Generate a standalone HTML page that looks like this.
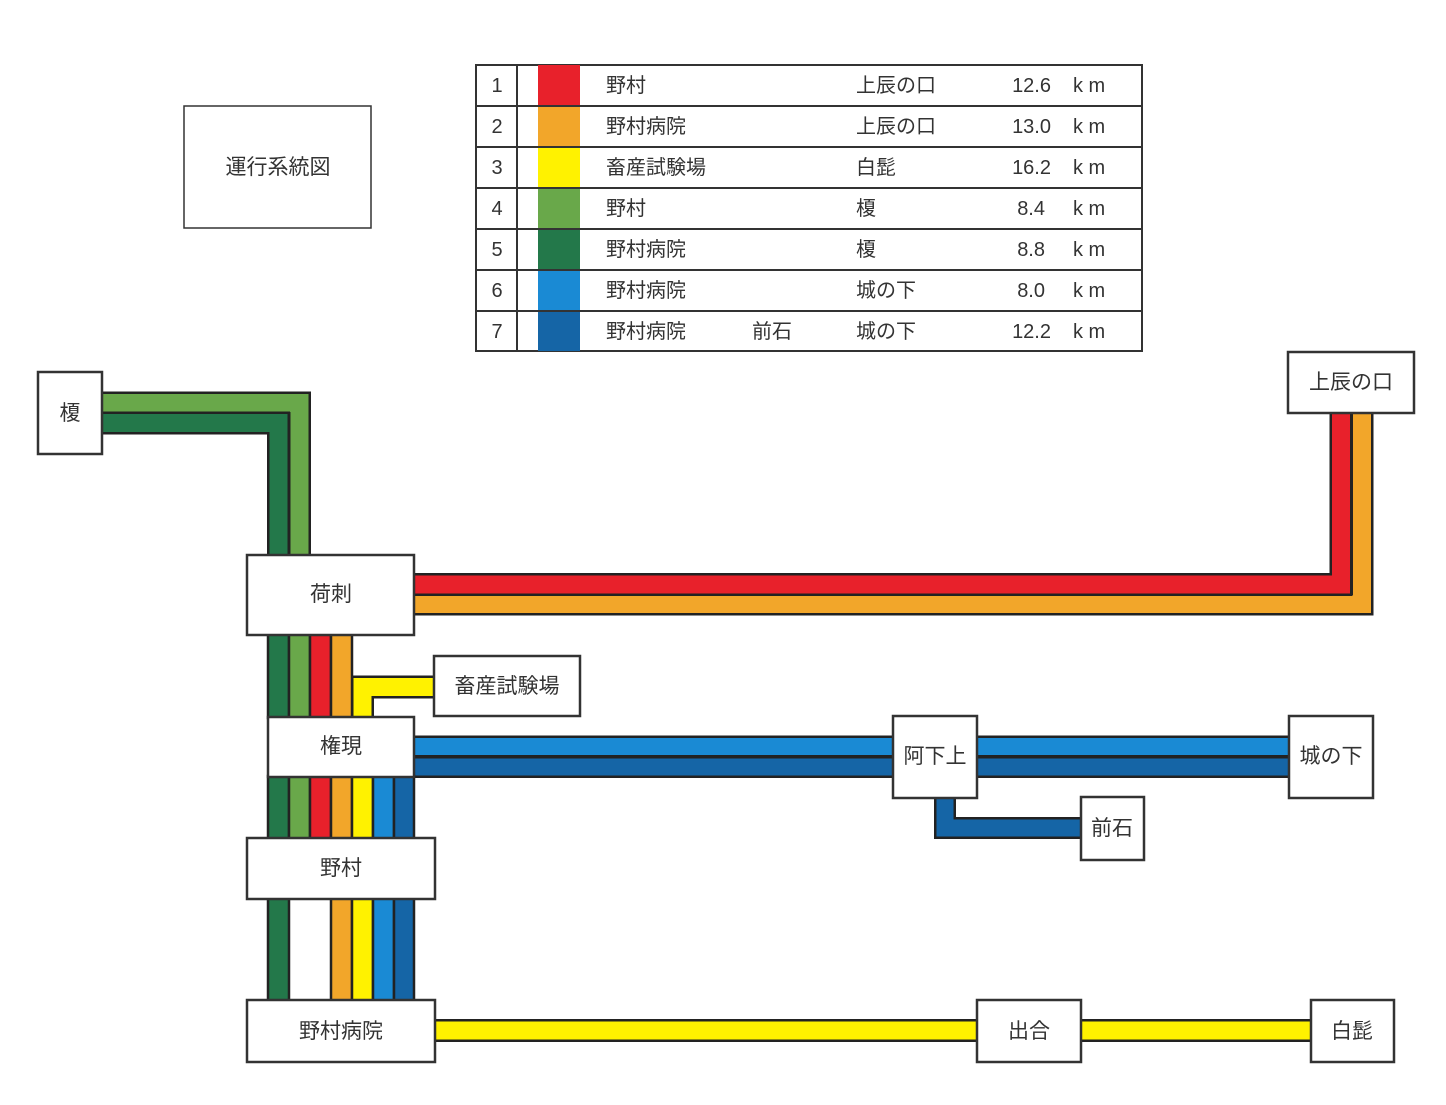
<!DOCTYPE html>
<html><head><meta charset="utf-8"><style>
html,body{margin:0;padding:0;background:#fff;}
svg{display:block;}
text{font-family:"Liberation Sans","Noto Sans CJK JP",sans-serif;fill:#333;}
</style></head><body>
<svg width="1446" height="1105" viewBox="0 0 1446 1105" xmlns="http://www.w3.org/2000/svg">
<g fill="none" stroke-linejoin="miter" stroke-linecap="butt">
<!-- green L to 榎 -->
<path d="M102 403 H299.5 V556" stroke="#222" stroke-width="23"/>
<path d="M102 403 H299.5 V556" stroke="#69a84a" stroke-width="18"/>
<path d="M102 423 H278.5 V556" stroke="#222" stroke-width="23"/>
<path d="M102 423 H278.5 V556" stroke="#23784a" stroke-width="18"/>
<!-- red/orange to 上辰の口 -->
<path d="M413 604 H1362 V412" stroke="#222" stroke-width="23"/>
<path d="M413 604 H1362 V412" stroke="#f2a62a" stroke-width="18"/>
<path d="M413 584.5 H1341 V412" stroke="#222" stroke-width="23"/>
<path d="M413 584.5 H1341 V412" stroke="#e8212b" stroke-width="18"/>
<!-- yellow to 畜産試験場 -->
<path d="M435 687 H362.5 V718" stroke="#222" stroke-width="23"/>
<path d="M435 687 H362.5 V718" stroke="#fff200" stroke-width="18"/>
<!-- blue lines -->
<path d="M413 746.5 H1290" stroke="#222" stroke-width="22"/>
<path d="M413 746.5 H1290" stroke="#1a8ad4" stroke-width="17"/>
<path d="M413 767 H1290" stroke="#222" stroke-width="22"/>
<path d="M413 767 H1290" stroke="#1565a6" stroke-width="17"/>
<path d="M945 797 V828 H1082" stroke="#222" stroke-width="22"/>
<path d="M945 797 V828 H1082" stroke="#1565a6" stroke-width="17"/>
<!-- yellow bottom -->
<path d="M434 1030.5 H1312" stroke="#222" stroke-width="23"/>
<path d="M434 1030.5 H1312" stroke="#fff200" stroke-width="18"/>
</g>
<g stroke="#222" stroke-width="2.5">
<!-- 荷刺-権現 -->
<rect x="268" y="634" width="21" height="84" fill="#23784a"/>
<rect x="289" y="634" width="21" height="84" fill="#69a84a"/>
<rect x="310" y="634" width="21" height="84" fill="#e8212b"/>
<rect x="331" y="634" width="21" height="84" fill="#f2a62a"/>
<!-- 権現-野村 -->
<rect x="268" y="776" width="21" height="63" fill="#23784a"/>
<rect x="289" y="776" width="21" height="63" fill="#69a84a"/>
<rect x="310" y="776" width="21" height="63" fill="#e8212b"/>
<rect x="331" y="776" width="21" height="63" fill="#f2a62a"/>
<rect x="352" y="776" width="21" height="63" fill="#fff200"/>
<rect x="373" y="776" width="21" height="63" fill="#1a8ad4"/>
<rect x="394" y="776" width="20" height="63" fill="#1565a6"/>
<!-- 野村-野村病院 -->
<rect x="268" y="898" width="21" height="103" fill="#23784a"/>
<rect x="331" y="898" width="21" height="103" fill="#f2a62a"/>
<rect x="352" y="898" width="21" height="103" fill="#fff200"/>
<rect x="373" y="898" width="21" height="103" fill="#1a8ad4"/>
<rect x="394" y="898" width="20" height="103" fill="#1565a6"/>
</g>
<!-- boxes -->
<g fill="#fff" stroke="#333" stroke-width="2.5">
<rect x="184" y="106" width="187" height="122" stroke-width="1.5"/>
<rect x="38" y="372" width="64" height="82"/>
<rect x="247" y="555" width="167" height="80"/>
<rect x="1288" y="352" width="126" height="61"/>
<rect x="434" y="656" width="146" height="60"/>
<rect x="268" y="717" width="146" height="60"/>
<rect x="893" y="716" width="84" height="82"/>
<rect x="1289" y="716" width="84" height="82"/>
<rect x="1081" y="797" width="63" height="63"/>
<rect x="247" y="838" width="188" height="61"/>
<rect x="247" y="1000" width="188" height="62"/>
<rect x="977" y="1000" width="104" height="62"/>
<rect x="1311" y="1000" width="83" height="62"/>
</g>
<g font-size="21" text-anchor="middle">
<text x="278" y="174">運行系統図</text>
<text x="70" y="420">榎</text>
<text x="331" y="601">荷刺</text>
<text x="1351" y="389">上辰の口</text>
<text x="507" y="693">畜産試験場</text>
<text x="341" y="753">権現</text>
<text x="935" y="763">阿下上</text>
<text x="1331" y="763">城の下</text>
<text x="1112" y="835">前石</text>
<text x="341" y="875">野村</text>
<text x="341" y="1038">野村病院</text>
<text x="1029" y="1038">出合</text>
<text x="1352" y="1038">白髭</text>
</g>
<!-- table -->
<g>
<rect x="476" y="65" width="666" height="286" fill="#fff" stroke="#333" stroke-width="2"/>
<rect x="538" y="65" width="42" height="41" fill="#e8212b"/>
<rect x="538" y="106" width="42" height="41" fill="#f2a62a"/>
<rect x="538" y="147" width="42" height="41" fill="#fff200"/>
<rect x="538" y="188" width="42" height="41" fill="#69a84a"/>
<rect x="538" y="229" width="42" height="41" fill="#23784a"/>
<rect x="538" y="270" width="42" height="41" fill="#1a8ad4"/>
<rect x="538" y="311" width="42" height="40" fill="#1565a6"/>
<g stroke="#333" stroke-width="2">
<line x1="517" y1="65" x2="517" y2="351"/>
<line x1="476" y1="106" x2="1142" y2="106"/>
<line x1="476" y1="147" x2="1142" y2="147"/>
<line x1="476" y1="188" x2="1142" y2="188"/>
<line x1="476" y1="229" x2="1142" y2="229"/>
<line x1="476" y1="270" x2="1142" y2="270"/>
<line x1="476" y1="311" x2="1142" y2="311"/>
</g>
<g font-size="20">
<g text-anchor="middle">
<text x="497" y="92">1</text><text x="497" y="133">2</text><text x="497" y="174">3</text>
<text x="497" y="215">4</text><text x="497" y="256">5</text><text x="497" y="297">6</text><text x="497" y="338">7</text>
</g>
<text x="606" y="92">野村</text><text x="606" y="133">野村病院</text><text x="606" y="174">畜産試験場</text>
<text x="606" y="215">野村</text><text x="606" y="256">野村病院</text><text x="606" y="297">野村病院</text><text x="606" y="338">野村病院</text>
<text x="752" y="338">前石</text>
<text x="856" y="92">上辰の口</text><text x="856" y="133">上辰の口</text><text x="856" y="174">白髭</text>
<text x="856" y="215">榎</text><text x="856" y="256">榎</text><text x="856" y="297">城の下</text><text x="856" y="338">城の下</text>
<g text-anchor="end">
<text x="1051" y="92">12.6</text><text x="1051" y="133">13.0</text><text x="1051" y="174">16.2</text>
<text x="1045" y="215">8.4</text><text x="1045" y="256">8.8</text><text x="1045" y="297">8.0</text><text x="1051" y="338">12.2</text>
</g>
<text x="1073" y="92">k m</text><text x="1073" y="133">k m</text><text x="1073" y="174">k m</text>
<text x="1073" y="215">k m</text><text x="1073" y="256">k m</text><text x="1073" y="297">k m</text><text x="1073" y="338">k m</text>
</g>
</g>
</svg>
</body></html>
